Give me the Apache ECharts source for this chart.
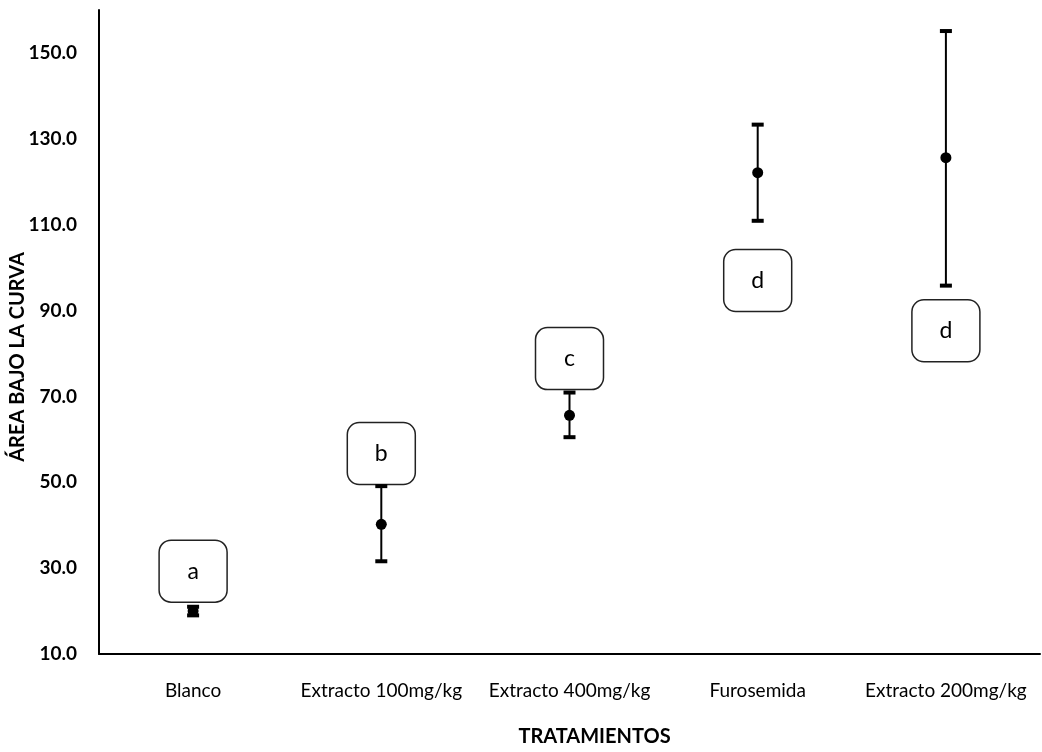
<!DOCTYPE html>
<html>
<head>
<meta charset="utf-8">
<script src="https://cdn.jsdelivr.net/npm/echarts@6/dist/echarts.min.js"></script>
<style>
  html, body { margin: 0; padding: 0; background: #fff; }
  #chart { width: 1042px; height: 752px; }
</style>
</head>
<body>
<div id="chart"></div>
<script>
var categories = ['Blanco', 'Extracto 100mg/kg', 'Extracto 400mg/kg', 'Furosemida', 'Extracto 200mg/kg'];
var means = [20.0, 40.2, 65.6, 122.1, 125.6];
var lower = [19.0, 31.6, 60.5, 110.9, 95.8];
var upper = [21.0, 49.1, 70.9, 133.3, 155.1];
var letters = ['a', 'b', 'c', 'd', 'd'];
var letterPos = [29.3, 56.7, 78.8, 97.0, 85.3];
var yTicks = [10, 30, 50, 70, 90, 110, 130, 150];

var font = 'Lato, "Open Sans", sans-serif';

var barData = categories.map(function (c, i) { return [i, lower[i], upper[i]]; });
var meanData = categories.map(function (c, i) { return [i, means[i]]; });
var boxData = categories.map(function (c, i) { return [i, letterPos[i], letters[i]]; });

var chart = echarts.init(document.getElementById('chart'));
chart.setOption({
    animation: false,
    backgroundColor: '#fff',
    grid: { left: 99, right: 2, top: 10, bottom: 98, containLabel: false, outerBoundsMode: 'none' },
    xAxis: {
        type: 'category',
        data: categories,
        name: 'TRATAMIENTOS',
        nameLocation: 'middle',
        nameGap: 73,
        nameMoveOverlap: false,
        nameTextStyle: {
            fontFamily: font, fontWeight: 'bold', fontSize: 20, color: '#000',
            padding: [0, 0, 0, 50]
        },
        axisTick: { show: false },
        axisLine: { lineStyle: { color: '#000', width: 2 } },
        axisLabel: { fontFamily: font, fontSize: 19, color: '#000', margin: 27, interval: 0 }
    },
    yAxis: {
        type: 'value',
        min: 10,
        max: 160,
        interval: 10,
        name: 'ÁREA BAJO LA CURVA',
        nameLocation: 'middle',
        nameGap: 71,
        nameMoveOverlap: false,
        nameTextStyle: {
            fontFamily: font, fontWeight: 'bold', fontSize: 20, color: '#000',
            padding: [0, 50, 0, 0]
        },
        splitLine: { show: false },
        axisTick: { show: false },
        axisLine: { show: true, lineStyle: { color: '#000', width: 2 } },
        axisLabel: {
            fontFamily: font, fontSize: 19, fontWeight: 'bold', color: '#000', margin: 22,
            formatter: function (v) {
                return yTicks.indexOf(v) >= 0 ? v.toFixed(1) : '';
            }
        }
    },
    series: [
        {
            // letter boxes
            type: 'custom',
            z: 1,
            data: boxData,
            renderItem: function (params, api) {
                var p = api.coord([api.value(0), api.value(1)]);
                var w = 68, h = 62;
                return {
                    type: 'group',
                    children: [
                        {
                            type: 'rect',
                            shape: { x: p[0] - w / 2, y: p[1] - h / 2, width: w, height: h, r: 12 },
                            style: { fill: '#fff', stroke: '#222', lineWidth: 1.5 }
                        },
                        {
                            type: 'text',
                            x: p[0], y: p[1],
                            style: {
                                text: letters[params.dataIndex],
                                fontFamily: font, fontSize: 23, fill: '#000',
                                align: 'center', verticalAlign: 'middle'
                            }
                        }
                    ]
                };
            }
        },
        {
            // error bars
            type: 'custom',
            z: 2,
            data: barData,
            renderItem: function (params, api) {
                var x = api.value(0);
                var lo = api.coord([x, api.value(1)]);
                var hi = api.coord([x, api.value(2)]);
                var half = 6;
                return {
                    type: 'group',
                    children: [
                        { type: 'line', shape: { x1: lo[0], y1: lo[1], x2: hi[0], y2: hi[1] }, style: { stroke: '#000', lineWidth: 2 } },
                        { type: 'rect', shape: { x: hi[0] - half, y: hi[1] - 2, width: half * 2, height: 4 }, style: { fill: '#000' } },
                        { type: 'rect', shape: { x: lo[0] - half, y: lo[1] - 2, width: half * 2, height: 4 }, style: { fill: '#000' } }
                    ]
                };
            }
        },
        {
            type: 'scatter',
            z: 3,
            data: meanData,
            symbol: 'circle',
            symbolSize: 11,
            itemStyle: { color: '#000', opacity: 1 }
        }
    ]
});
</script>
</body>
</html>
